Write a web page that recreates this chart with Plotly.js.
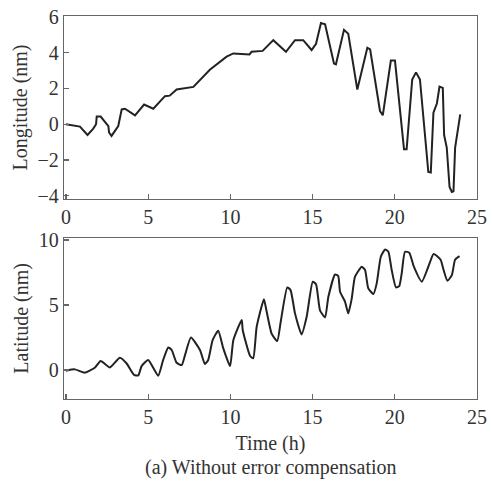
<!DOCTYPE html>
<html>
<head>
<meta charset="utf-8">
<script src="https://cdn.plot.ly/plotly-3.0.1.min.js"></script>
<style>html,body{margin:0;padding:0;background:#fff;}#chart{width:492px;height:487px;}</style>
</head>
<body>
<div id="chart"></div>
<script>
// Longitude series (time in h, value in nm)
const lonTime = [0, 0.85, 1.31, 1.66, 1.83, 1.87, 2.11, 2.58, 2.62, 2.77, 3.18, 3.28, 3.39, 3.59, 4.2, 4.75, 5.31, 6.02, 6.31, 6.73, 7.75, 8.75, 9.77, 10.18, 11.16, 11.29, 11.96, 12.61, 13.38, 13.93, 14.43, 14.94, 15.21, 15.51, 15.76, 16.3, 16.42, 16.91, 17.17, 17.72, 18.33, 18.5, 19.1, 19.27, 19.76, 20.01, 20.56, 20.72, 21.06, 21.29, 21.53, 22.04, 22.19, 22.35, 22.56, 22.72, 22.92, 23.0, 23.16, 23.33, 23.47, 23.57, 23.67, 23.98];
const lonValue = [0, -0.13, -0.6, -0.24, 0, 0.43, 0.43, -0.1, -0.46, -0.65, -0.1, 0.37, 0.83, 0.87, 0.5, 1.1, 0.87, 1.57, 1.6, 1.94, 2.09, 3.05, 3.78, 3.96, 3.9, 4.05, 4.1, 4.7, 4.05, 4.7, 4.7, 4.15, 4.5, 5.66, 5.59, 3.4, 3.35, 5.28, 5.06, 1.94, 4.28, 4.19, 0.74, 0.5, 3.56, 3.56, -1.39, -1.39, 2.5, 2.9, 2.5, -2.67, -2.7, 0.65, 1.16, 2.1, 2.03, -0.6, -1.3, -3.5, -3.78, -3.75, -1.3, 0.55];

// Latitude series
const latTime = [0, 0.54, 1.15, 1.77, 2.11, 2.67, 3.28, 3.69, 4.14, 4.4, 4.6, 5.0, 5.61, 5.91, 6.22, 6.43, 6.73, 7.04, 7.24, 7.6, 8.15, 8.45, 8.65, 8.92, 9.26, 9.57, 9.98, 10.18, 10.69, 10.75, 11.2, 11.39, 11.6, 12.04, 12.19, 12.51, 12.85, 13.06, 13.46, 13.66, 13.93, 14.33, 14.64, 15.01, 15.21, 15.45, 15.76, 15.96, 16.37, 16.56, 16.67, 16.97, 17.17, 17.38, 17.58, 17.99, 18.19, 18.39, 18.7, 18.9, 19.15, 19.41, 19.61, 19.81, 20.07, 20.27, 20.42, 20.62, 20.88, 21.16, 21.64, 22.15, 22.35, 22.66, 22.8, 22.96, 23.2, 23.47, 23.67, 23.94];
const latValue = [-0.05, 0.05, -0.2, 0.2, 0.7, 0.2, 0.95, 0.5, -0.38, -0.41, 0.3, 0.77, -0.44, 0.77, 1.74, 1.54, 0.56, 0.38, 1.15, 2.5, 1.54, 0.46, 0.77, 2.3, 3.03, 1.67, 0.3, 2.3, 3.85, 3.08, 1.08, 0.9, 3.33, 5.44, 4.6, 2.8, 2.23, 3.7, 6.36, 6.15, 4.36, 2.74, 4.1, 6.8, 6.6, 4.6, 4.05, 5.64, 7.36, 7.23, 6.03, 5.26, 4.36, 5.5, 7.18, 7.95, 7.7, 6.28, 5.85, 6.67, 8.72, 9.28, 9.1, 7.7, 6.36, 6.46, 7.44, 9.1, 9.03, 7.95, 6.8, 8.33, 8.92, 8.67, 8.46, 7.74, 6.87, 7.3, 8.5, 8.77];

const xTicks = [0, 5, 10, 15, 20, 25];
const lonTicks = [-4, -2, 0, 2, 4, 6];
const latTicks = [0, 5, 10];

const fnt = {family: 'Liberation Serif', size: 20, color: '#333'};

const axisCommon = {
  showline: true, mirror: true, linecolor: '#666', linewidth: 1.2,
  ticks: 'inside', ticklen: 5, tickcolor: '#666', tickwidth: 1.2,
  showgrid: false, zeroline: false, tickfont: fnt
};

const traces = [
  {x: lonTime, y: lonValue, xaxis: 'x', yaxis: 'y', mode: 'lines', line: {color: '#222', width: 2}, hoverinfo: 'skip'},
  {x: latTime, y: latValue, xaxis: 'x2', yaxis: 'y2', mode: 'lines', line: {color: '#222', width: 2, shape: 'spline', smoothing: 0.5}, hoverinfo: 'skip'}
];

const layout = {
  width: 492, height: 487,
  margin: {l: 64, r: 15, t: 16, b: 88},
  paper_bgcolor: '#fff', plot_bgcolor: '#fff',
  showlegend: false,
  font: fnt,
  xaxis: Object.assign({}, axisCommon, {domain: [0, 1], range: [-0.12, 25], tickvals: xTicks, anchor: 'y'}),
  yaxis: Object.assign({}, axisCommon, {domain: [0.522, 1], range: [-4.18, 6.05], tickvals: lonTicks, anchor: 'x',
    title: {text: 'Longitude (nm)', font: fnt, standoff: 4}}),
  xaxis2: Object.assign({}, axisCommon, {domain: [0, 1], range: [-0.12, 25], tickvals: xTicks, anchor: 'y2',
    title: {text: 'Time (h)', font: fnt, standoff: 8}}),
  yaxis2: Object.assign({}, axisCommon, {domain: [0, 0.421], range: [-2.23, 10.18], tickvals: latTicks, anchor: 'x2',
    title: {text: 'Latitude (nm)', font: fnt, standoff: 4}}),
  annotations: [{
    text: '(a) Without error compensation', xref: 'paper', yref: 'paper', x: 0.5, y: 0,
    yshift: -68, showarrow: false, font: fnt, xanchor: 'center', yanchor: 'middle'
  }]
};

Plotly.newPlot('chart', traces, layout, {staticPlot: true, displayModeBar: false});
</script>
</body>
</html>
